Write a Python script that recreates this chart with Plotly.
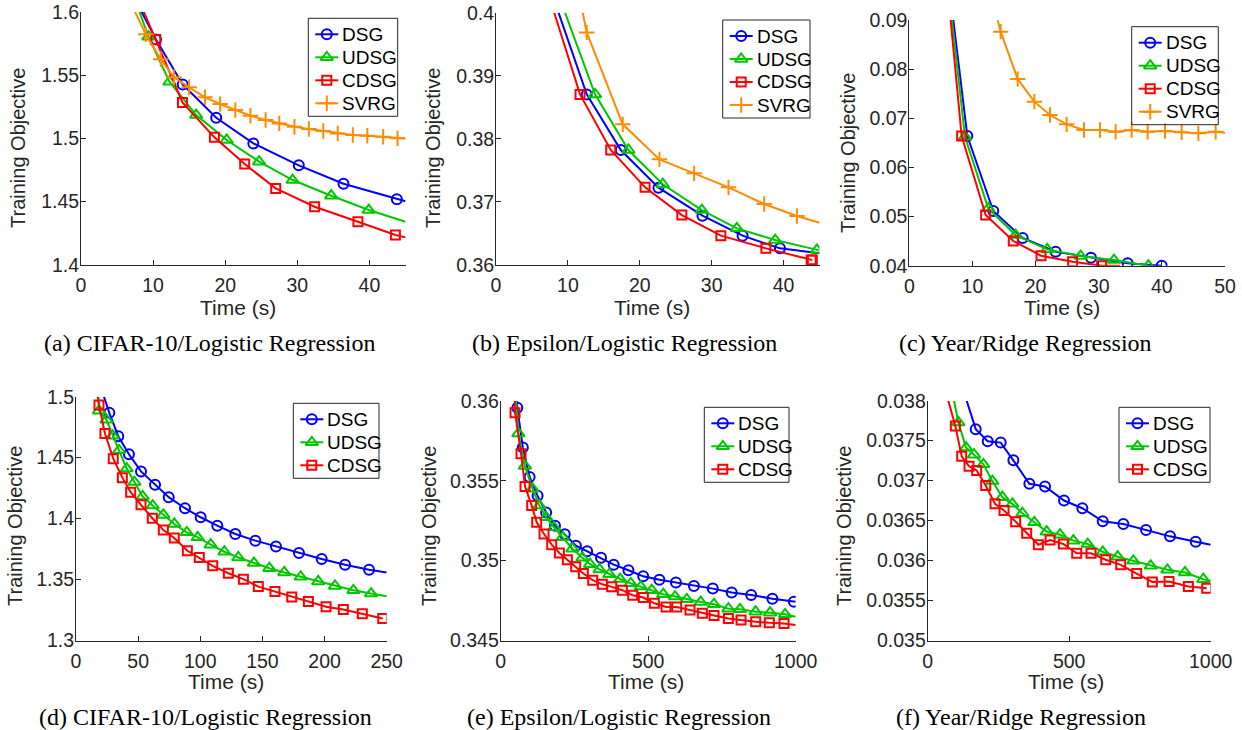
import plotly.graph_objects as go

# ---------------- DATA ----------------
SERIES = ["DSG", "UDSG", "CDSG", "SVRG"]

# (a) CIFAR-10 / Logistic Regression (short run)
A_DSG_T = [8.4, 10.4, 14.1, 18.75, 23.9, 30.2, 36.4, 43.8, 45.0]
A_DSG_Y = [1.600, 1.578, 1.5426, 1.5163, 1.496, 1.4787, 1.4642, 1.452, 1.4503]
A_UDSG_T = [8.1, 9.35, 12.27, 15.97, 20.2, 24.7, 29.35, 34.7, 39.9, 45.0]
A_UDSG_Y = [1.600, 1.5803, 1.5447, 1.5184, 1.4987, 1.4816, 1.4671, 1.4547, 1.4434, 1.4342]
A_CDSG_T = [8.7, 10.37, 14.07, 18.5, 22.7, 27.0, 32.4, 38.4, 43.6, 45.0]
A_CDSG_Y = [1.600, 1.578, 1.5284, 1.5008, 1.4797, 1.4605, 1.446, 1.4342, 1.4237, 1.4218]
A_SVRG_T = [7.5, 8.98, 11.06, 12.9, 15.0, 17.2, 19.3, 21.4, 23.5, 25.6, 27.5, 29.6,
            31.6, 33.6, 35.6, 37.7, 39.7, 41.9, 43.9, 45.0]
A_SVRG_Y = [1.600, 1.5821, 1.5624, 1.5482, 1.5403, 1.5324, 1.5271, 1.5224, 1.5179,
            1.5145, 1.5118, 1.5092, 1.5074, 1.5058, 1.5039, 1.5026, 1.5021, 1.5013,
            1.5000, 1.4999]

# (b) Epsilon / Logistic Regression (short run)
B_DSG_T = [8.7, 12.62, 17.36, 22.6, 28.72, 34.3, 39.5, 45.0]
B_DSG_Y = [0.400, 0.38705, 0.37823, 0.37226, 0.36782, 0.36465, 0.36264, 0.36185]
B_UDSG_T = [9.6, 13.78, 18.42, 23.2, 28.63, 33.5, 38.84, 44.64, 45.0]
B_UDSG_Y = [0.400, 0.38705, 0.37823, 0.3728, 0.36871, 0.36581, 0.36396, 0.36238, 0.36232]
B_CDSG_T = [8.1, 11.69, 15.96, 20.74, 25.85, 31.28, 37.54, 43.85, 44.0]
B_CDSG_Y = [0.400, 0.38705, 0.37823, 0.37231, 0.36792, 0.36465, 0.36264, 0.3608, 0.36078]
B_SVRG_T = [12.07, 12.62, 17.63, 22.74, 27.56, 32.34, 37.3, 41.86, 45.0]
B_SVRG_Y = [0.400, 0.39688, 0.3823, 0.37675, 0.37453, 0.37231, 0.36967, 0.36777, 0.36671]

# (c) Year / Ridge Regression (short run)
C_DSG_T = [6.97, 9.19, 13.3, 17.95, 23.18, 28.77, 34.58, 39.97]
C_DSG_Y = [0.090, 0.06639, 0.05113, 0.04563, 0.04285, 0.04163, 0.04048, 0.0400]
C_UDSG_T = [6.76, 8.82, 12.5, 16.84, 21.86, 27.14, 32.42, 37.86]
C_UDSG_Y = [0.090, 0.06625, 0.05167, 0.04624, 0.04332, 0.04197, 0.04115, 0.0400]
C_CDSG_T = [6.55, 8.29, 12.09, 16.47, 20.86, 25.87, 30.46, 33.4]
C_CDSG_Y = [0.090, 0.06639, 0.05031, 0.04502, 0.04204, 0.04081, 0.0400, 0.0400]
C_SVRG_T = [14.0, 14.47, 17.16, 19.8, 22.28, 24.92, 27.67, 30.2, 32.68, 35.22,
            37.75, 40.5, 43.14, 45.78, 48.52, 50.0]
C_SVRG_Y = [0.090, 0.08763, 0.07799, 0.07338, 0.07066, 0.06876, 0.06761, 0.06761,
            0.06727, 0.06761, 0.06727, 0.06741, 0.06714, 0.06693, 0.06727, 0.06707]

# (d) CIFAR-10 / Logistic Regression (long run)
D_DSG_T = [22.5, 26.8, 34.0, 42.6, 52.3, 63.6, 74.6, 87.7, 100.3, 113.7, 128.2, 144.3,
           160.9, 179.4, 197.7, 216.5, 235.8, 250.0]
D_DSG_Y = [1.500, 1.4868, 1.4676, 1.4528, 1.4387, 1.4278, 1.4176, 1.4085, 1.4011,
           1.3942, 1.3874, 1.3819, 1.3772, 1.3717, 1.3668, 1.3621, 1.3580, 1.3558]
D_UDSG_T = [18.0, 18.5, 24.5, 29.5, 34.6, 40.8, 47.0, 53.6, 61.7, 70.3, 79.1, 89.1,
            97.9, 108.4, 119.4, 130.6, 143.2, 155.6, 167.6, 180.8, 194.9, 208.4,
            223.2, 237.4, 250.0]
D_UDSG_Y = [1.500, 1.4885, 1.4810, 1.4680, 1.4560, 1.4410, 1.4300, 1.4182, 1.4107,
            1.4030, 1.3956, 1.3887, 1.3846, 1.3786, 1.3728, 1.3681, 1.3635, 1.3593,
            1.3558, 1.3522, 1.3484, 1.3448, 1.3412, 1.3385, 1.3363]
D_CDSG_T = [17.6, 18.5, 23.3, 30.0, 37.3, 44.0, 52.3, 61.4, 70.3, 79.1, 89.6, 99.2,
            110.0, 122.6, 134.7, 146.7, 160.1, 173.6, 187.0, 201.2, 215.1, 230.4, 246.8]
D_CDSG_Y = [1.500, 1.4932, 1.4698, 1.4492, 1.4336, 1.4217, 1.4113, 1.4003, 1.3907,
            1.3841, 1.3736, 1.3681, 1.3613, 1.3552, 1.3503, 1.3442, 1.3401, 1.3357,
            1.3319, 1.3277, 1.3255, 1.3220, 1.3181]

# (e) Epsilon / Logistic Regression (long run)
E_DSG_T = [55.0, 56.3, 75.0, 98.0, 125.0, 154.0, 184.0, 217.0, 255.0, 293.0, 340.0,
           383.0, 433.0, 483.0, 538.0, 594.0, 655.0, 719.0, 783.0, 849.0, 921.0,
           994.0, 1000.0]
E_DSG_Y = [0.3600, 0.35958, 0.35709, 0.35524, 0.35406, 0.35301, 0.35218, 0.35165,
           0.35094, 0.35059, 0.35018, 0.34975, 0.34940, 0.34902, 0.34880, 0.34863,
           0.34842, 0.34825, 0.34800, 0.34785, 0.34762, 0.34743, 0.34742]
E_UDSG_T = [52.0, 60.0, 82.0, 108.0, 131.0, 154.0, 181.0, 210.0, 243.0, 277.0, 303.0,
            335.0, 368.0, 405.0, 441.0, 475.0, 512.0, 551.0, 591.0, 631.0, 678.0,
            723.0, 772.0, 811.0, 864.0, 913.0, 964.0, 1000.0]
E_UDSG_Y = [0.3600, 0.35797, 0.35593, 0.35450, 0.35345, 0.35272, 0.35209, 0.35146,
            0.35075, 0.35018, 0.34978, 0.34945, 0.34915, 0.34885, 0.34858, 0.34838,
            0.34815, 0.34790, 0.34775, 0.34758, 0.34741, 0.34727, 0.34699, 0.34695,
            0.34680, 0.34674, 0.34664, 0.34649]
E_CDSG_T = [47.5, 48.6, 68.9, 82.5, 105.1, 122.0, 146.9, 172.9, 198.9, 226.0, 254.2,
            280.2, 311.9, 344.6, 376.3, 412.4, 447.5, 483.6, 520.9, 560.5, 596.6,
            641.8, 683.6, 723.2, 771.8, 814.7, 864.4, 910.7, 960.5, 1000.0]
E_CDSG_Y = [0.3600, 0.35927, 0.35670, 0.35465, 0.35345, 0.35240, 0.35167, 0.35100,
            0.35048, 0.35006, 0.34962, 0.34920, 0.34878, 0.34852, 0.34836, 0.34815,
            0.34783, 0.34769, 0.34733, 0.34710, 0.34710, 0.34691, 0.34670, 0.34657,
            0.34638, 0.34628, 0.34617, 0.34611, 0.34607, 0.34597]

# (f) Year / Ridge Regression (long run)
F_DSG_T = [137.8, 169.6, 212.0, 258.0, 302.7, 359.2, 414.6, 481.7, 546.5, 618.4,
           691.4, 771.5, 856.3, 947.0, 1000.0]
F_DSG_Y = [0.038, 0.037644, 0.037493, 0.037476, 0.037254, 0.036961, 0.036927,
           0.036751, 0.036655, 0.036492, 0.036458, 0.036383, 0.036303, 0.036236,
           0.036198]
F_UDSG_T = [93.0, 108.4, 135.5, 163.7, 196.7, 228.5, 263.8, 299.2, 334.5, 376.9,
            420.5, 467.6, 514.7, 565.4, 618.4, 671.4, 726.7, 788.0, 846.9, 909.3,
            974.1, 1000.0]
F_UDSG_Y = [0.038, 0.037728, 0.037413, 0.037325, 0.037204, 0.036994, 0.036793,
            0.036710, 0.036592, 0.036479, 0.036362, 0.036324, 0.036249, 0.036207,
            0.036110, 0.036048, 0.035997, 0.035934, 0.035884, 0.035851, 0.035767,
            0.035746]
F_CDSG_T = [73.0, 97.8, 120.1, 146.0, 173.1, 205.0, 237.9, 269.7, 310.9, 349.8, 391.0,
            432.3, 479.4, 526.5, 577.2, 629.0, 682.0, 738.5, 793.9, 852.8, 921.1, 985.9]
F_CDSG_Y = [0.038, 0.037682, 0.037304, 0.037179, 0.037128, 0.036940, 0.036710,
            0.036626, 0.036487, 0.036341, 0.036198, 0.036257, 0.036207, 0.036090,
            0.036090, 0.036010, 0.035947, 0.035838, 0.035733, 0.035737, 0.035675,
            0.035654]

# tick labels
A_XTICKS = [0, 10, 20, 30, 40]
A_YTICKS = ["1.4", "1.45", "1.5", "1.55", "1.6"]
B_XTICKS = [0, 10, 20, 30, 40]
B_YTICKS = ["0.36", "0.37", "0.38", "0.39", "0.4"]
C_XTICKS = [0, 10, 20, 30, 40, 50]
C_YTICKS = ["0.04", "0.05", "0.06", "0.07", "0.08", "0.09"]
D_XTICKS = [0, 50, 100, 150, 200, 250]
D_YTICKS = ["1.3", "1.35", "1.4", "1.45", "1.5"]
E_XTICKS = [0, 500, 1000]
E_YTICKS = ["0.345", "0.35", "0.355", "0.36"]
F_XTICKS = [0, 500, 1000]
F_YTICKS = ["0.035", "0.0355", "0.036", "0.0365", "0.037", "0.0375", "0.038"]

CAPTIONS = ["(a) CIFAR-10/Logistic Regression", "(b) Epsilon/Logistic Regression",
            "(c) Year/Ridge Regression", "(d) CIFAR-10/Logistic Regression",
            "(e) Epsilon/Logistic Regression", "(f) Year/Ridge Regression"]
XTITLE = "Time (s)"
YTITLE = "Training Objective"

# ---------------- STYLE / LAYOUT ----------------
W, H = 1242, 730
AX = "#262626"
SANS = "Liberation Sans, Arial, sans-serif"
SERIF = "Liberation Serif, Times New Roman, serif"

STYLE = {
    "DSG": dict(color="#0000FF", symbol="circle-open", size=10),
    "UDSG": dict(color="#00C800", symbol="triangle-up-open", size=11),
    "CDSG": dict(color="#FF0000", symbol="square-open", size=9),
    "SVRG": dict(color="#FF8C00", symbol="cross-thin-open", size=11),
}

# panel boxes in pixels: left, right, top, bottom ; legend box: left, top, width
PANELS = [
    dict(box=(81, 405.5, 11.7, 265), xr=[0, 45], yr=[1.4, 1.6], xt=A_XTICKS, yt=A_YTICKS,
         data={"DSG": (A_DSG_T, A_DSG_Y), "UDSG": (A_UDSG_T, A_UDSG_Y),
               "CDSG": (A_CDSG_T, A_CDSG_Y), "SVRG": (A_SVRG_T, A_SVRG_Y)},
         leg=(308.3, 18.3, 89.4), ytitle=(18, 148), xtitle=(238, 307), cap=(210, 343)),
    dict(box=(496, 819.5, 12.7, 265), xr=[0, 45], yr=[0.36, 0.4], xt=B_XTICKS, yt=B_YTICKS,
         data={"DSG": (B_DSG_T, B_DSG_Y), "UDSG": (B_UDSG_T, B_UDSG_Y),
               "CDSG": (B_CDSG_T, B_CDSG_Y), "SVRG": (B_SVRG_T, B_SVRG_Y)},
         leg=(722.7, 20, 87.3), ytitle=(433, 148), xtitle=(652, 307), cap=(624, 343)),
    dict(box=(909.3, 1225, 20, 265.7), xr=[0, 50], yr=[0.04, 0.09], xt=C_XTICKS, yt=C_YTICKS,
         data={"DSG": (C_DSG_T, C_DSG_Y), "UDSG": (C_UDSG_T, C_UDSG_Y),
               "CDSG": (C_CDSG_T, C_CDSG_Y), "SVRG": (C_SVRG_T, C_SVRG_Y)},
         leg=(1131.7, 26.7, 86.6), ytitle=(848, 153), xtitle=(1062, 307), cap=(1025, 343)),
    dict(box=(76, 386.7, 396.7, 640.5), xr=[0, 250], yr=[1.3, 1.5], xt=D_XTICKS, yt=D_YTICKS,
         data={"DSG": (D_DSG_T, D_DSG_Y), "UDSG": (D_UDSG_T, D_UDSG_Y),
               "CDSG": (D_CDSG_T, D_CDSG_Y)},
         leg=(293.3, 403.3, 85.7), ytitle=(15, 526), xtitle=(226, 681), cap=(205, 717)),
    dict(box=(500.7, 795.7, 401, 640.5), xr=[0, 1000], yr=[0.345, 0.36], xt=E_XTICKS, yt=E_YTICKS,
         data={"DSG": (E_DSG_T, E_DSG_Y), "UDSG": (E_UDSG_T, E_UDSG_Y),
               "CDSG": (E_CDSG_T, E_CDSG_Y)},
         leg=(704.3, 407.3, 84.7), ytitle=(429, 526), xtitle=(646, 681), cap=(619, 717)),
    dict(box=(927.7, 1210.7, 400.7, 640.5), xr=[0, 1000], yr=[0.035, 0.038], xt=F_XTICKS, yt=F_YTICKS,
         data={"DSG": (F_DSG_T, F_DSG_Y), "UDSG": (F_UDSG_T, F_UDSG_Y),
               "CDSG": (F_CDSG_T, F_CDSG_Y)},
         leg=(1119, 407.3, 91), ytitle=(844, 526), xtitle=(1066, 681), cap=(1021, 717)),
]

# legend geometry (pixels, relative to the legend box)
LEG_FIRST, LEG_STEP, LEG_BOTTOM = 16.0, 23.0, 13.0
LEG_LINE = (7.0, 30.0)
LEG_MARK = 18.5
LEG_TEXT = 32.0


def marked(t, y, xr, yr):
    """Drop the unmarked edge points where a curve enters or leaves the axes box."""
    out_t, out_y = [], []
    for i, (a, b) in enumerate(zip(t, y)):
        if i == 0 and b >= yr[1] - 1e-12:
            continue
        if i == len(t) - 1 and (a >= xr[1] - 1e-9 or (b <= yr[0] + 1e-12 and y[i - 1] <= yr[0] + 1e-12)):
            continue
        out_t.append(a)
        out_y.append(b)
    return out_t, out_y


fig = go.Figure()
layout = dict(width=W, height=H, margin=dict(l=0, r=0, t=0, b=0, autoexpand=False),
              paper_bgcolor="white", plot_bgcolor="rgba(0,0,0,0)", showlegend=False)
annotations = []
shapes = []

# pixel overlay axes (for legend samples)
layout["xaxis7"] = dict(domain=[0, 1], range=[0, W], visible=False, fixedrange=True,
                        anchor="y7", automargin=False)
layout["yaxis7"] = dict(domain=[0, 1], range=[H, 0], visible=False, fixedrange=True,
                        anchor="x7", automargin=False)

for k, p in enumerate(PANELS):
    n = "" if k == 0 else str(k + 1)
    xa, ya = "x" + n, "y" + n
    l, r, t, b = p["box"]
    layout["xaxis" + n] = dict(
        domain=[l / W, r / W], range=p["xr"], anchor=ya, showline=True, linecolor=AX,
        linewidth=1, ticks="inside", ticklen=5, tickcolor=AX, tickwidth=1, automargin=False,
        tickvals=p["xt"], ticktext=[str(v) for v in p["xt"]], showgrid=False, zeroline=False,
        ticklabelstandoff=3,
        tickfont=dict(family=SANS, size=19.5, color=AX))
    layout["yaxis" + n] = dict(
        domain=[1 - b / H, 1 - t / H], range=p["yr"], anchor=xa, showline=True, linecolor=AX,
        linewidth=1, ticks="inside", ticklen=5, tickcolor=AX, tickwidth=1, automargin=False,
        tickvals=[float(v) for v in p["yt"]], ticktext=p["yt"], showgrid=False, zeroline=False,
        ticklabelstandoff=-3,
        tickfont=dict(family=SANS, size=19.5, color=AX))

    for name, (tt, yy) in p["data"].items():
        st = STYLE[name]
        fig.add_trace(go.Scatter(x=tt, y=yy, mode="lines", xaxis=xa, yaxis=ya,
                                 line=dict(color=st["color"], width=2), hoverinfo="skip"))
        mt, my = marked(tt, yy, p["xr"], p["yr"])
        fig.add_trace(go.Scatter(x=mt, y=my, mode="markers", xaxis=xa, yaxis=ya, name=name,
                                 marker=dict(symbol=st["symbol"], size=st["size"], color=st["color"],
                                             line=dict(color=st["color"], width=2))))

    # legend box with one sample per series
    lx, ly, lw = p["leg"]
    names = list(p["data"].keys())
    lh = LEG_FIRST + LEG_STEP * (len(names) - 1) + LEG_BOTTOM
    shapes.append(dict(type="rect", xref="paper", yref="paper", x0=lx / W, x1=(lx + lw) / W,
                       y0=1 - (ly + lh) / H, y1=1 - ly / H, line=dict(color=AX, width=1),
                       fillcolor="rgba(0,0,0,0)", layer="above"))
    for i, name in enumerate(names):
        st = STYLE[name]
        cy = ly + LEG_FIRST + LEG_STEP * i
        fig.add_trace(go.Scatter(x=[lx + LEG_LINE[0], lx + LEG_LINE[1]], y=[cy, cy], mode="lines",
                                 xaxis="x7", yaxis="y7", line=dict(color=st["color"], width=2),
                                 hoverinfo="skip"))
        fig.add_trace(go.Scatter(x=[lx + LEG_MARK], y=[cy], mode="markers", xaxis="x7", yaxis="y7",
                                 hoverinfo="skip",
                                 marker=dict(symbol=st["symbol"], size=st["size"], color=st["color"],
                                             line=dict(color=st["color"], width=2))))
        annotations.append(dict(text=name, x=(lx + LEG_TEXT) / W, y=1 - cy / H, xref="paper",
                                yref="paper", showarrow=False, xanchor="left", yanchor="middle",
                                font=dict(family=SANS, size=19, color="black")))

    annotations.append(dict(text=YTITLE, x=p["ytitle"][0] / W, y=1 - p["ytitle"][1] / H,
                            xref="paper", yref="paper", showarrow=False, textangle=-90,
                            xanchor="center", yanchor="middle",
                            font=dict(family=SANS, size=20, color=AX)))
    annotations.append(dict(text=XTITLE, x=p["xtitle"][0] / W, y=1 - p["xtitle"][1] / H,
                            xref="paper", yref="paper", showarrow=False,
                            xanchor="center", yanchor="middle",
                            font=dict(family=SANS, size=21, color=AX)))
    annotations.append(dict(text=CAPTIONS[k], x=p["cap"][0] / W, y=1 - p["cap"][1] / H,
                            xref="paper", yref="paper", showarrow=False,
                            xanchor="center", yanchor="middle",
                            font=dict(family=SERIF, size=24, color="black")))

layout["annotations"] = annotations
layout["shapes"] = shapes
fig.update_layout(**layout)
fig.write_html("out.html", config={"displayModeBar": False},
               post_script="document.body.style.margin='0px';document.body.style.padding='0px';")
